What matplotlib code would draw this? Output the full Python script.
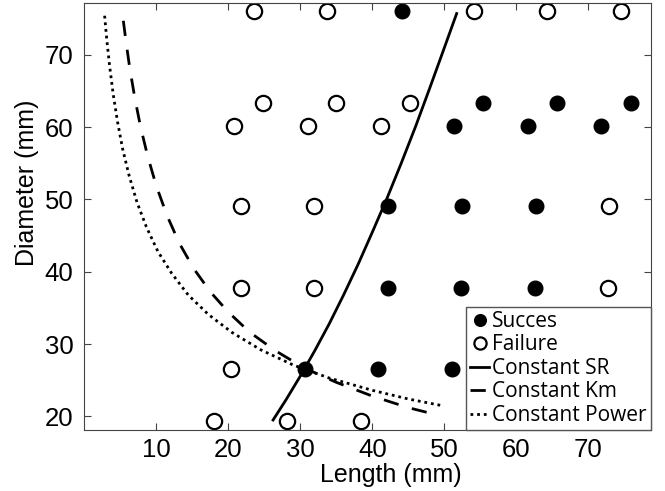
import matplotlib.pyplot as plt

# test points: length (mm), diameter (mm)
succes_len = [44.1, 55.4, 65.6, 75.9, 51.4, 61.6, 71.8, 42.2, 52.4, 62.7, 42.1, 52.3, 62.6, 30.7, 40.8, 51.0]
succes_dia = [76.0, 63.3, 63.3, 63.3, 60.2, 60.2, 60.2, 49.1, 49.1, 49.1, 37.8, 37.8, 37.8, 26.6, 26.6, 26.6]

fail_len = [23.5, 33.7, 54.1, 64.3, 74.5, 24.8, 35.0, 45.2, 20.8, 31.0, 41.2,
            21.8, 31.9, 72.8, 21.7, 31.9, 72.7, 20.4, 18.0, 28.2, 38.4]
fail_dia = [76.0, 76.0, 76.0, 76.0, 76.0, 63.3, 63.3, 63.3, 60.2, 60.2, 60.2,
            49.1, 49.1, 49.1, 37.8, 37.8, 37.8, 26.6, 19.3, 19.3, 19.3]

# iso curves
sr_len = [26.2, 28, 30, 32, 34, 36, 38, 40, 42, 44, 46, 48, 50, 51.7]
sr_dia = [19.5, 22.3, 25.6, 29.1, 32.8, 36.8, 41.0, 45.5, 50.1, 55.0, 60.1, 65.5, 71.0, 75.7]

km_len = [5.4, 5.8, 6.3, 7.0, 7.8, 8.8, 10.0, 11.5, 13.2, 15.2, 17.5, 20.0, 23.0, 26.5, 30.5, 35.0, 40.0, 45.0, 49.4]
km_dia = [74.7, 71.6, 68.1, 64.0, 60.0, 55.9, 51.8, 47.7, 43.9, 40.4, 37.2, 34.4, 31.6, 29.1, 26.7, 24.7, 22.8, 21.2, 20.1]

pw_len = [2.8, 3.1, 3.5, 4.0, 4.6, 5.3, 6.2, 7.3, 8.6, 10.2, 12.1, 14.4, 17.2, 20.5, 24.5, 29.0, 34.0, 40.0, 45.0, 49.6]
pw_dia = [75.4, 72.1, 68.4, 64.5, 60.7, 57.0, 53.3, 49.6, 46.2, 42.8, 39.8, 36.8, 34.1, 31.6, 29.2, 27.1, 25.3, 23.6, 22.4, 21.5]

xticks = [10, 20, 30, 40, 50, 60, 70]
yticks = [20, 30, 40, 50, 60, 70]

plt.rcParams['font.family'] = ['Liberation Sans', 'DejaVu Sans']

fig = plt.figure(figsize=(6.65, 4.91), dpi=100)
ax = fig.add_axes([0.127, 0.124, 0.852, 0.869])

ax.plot(succes_len, succes_dia, 'o', color='black', markersize=10.5, label='Succes')
ax.plot(fail_len, fail_dia, 'o', markerfacecolor='white', markeredgecolor='black',
        markeredgewidth=1.6, markersize=11, label='Failure')
ax.plot(sr_len, sr_dia, '-', color='black', linewidth=2, label='Constant SR')
ax.plot(km_len, km_dia, color='black', linewidth=2, linestyle=(0, (5.5, 5)), label='Constant Km')
ax.plot(pw_len, pw_dia, color='black', linewidth=2, linestyle=(0, (1, 1.4)), label='Constant Power')

ax.set_xlim(0, 78.7)
ax.set_ylim(18.1, 77.1)
ax.set_xticks(xticks)
ax.set_yticks(yticks)
ax.tick_params(direction='in', top=True, right=True, labelsize=18.5, length=5, color='#444444')
ax.tick_params(axis='x', pad=6)
ax.tick_params(axis='y', pad=8)
for s in ax.spines.values():
    s.set_color('#444444')
ax.set_xlabel('Length (mm)', fontsize=18)
ax.set_ylabel('Diameter (mm)', fontsize=18)
ax.xaxis.set_label_coords(0.541, -0.076)
ax.yaxis.set_label_coords(-0.080, 0.58)

leg = ax.legend(loc='lower right', borderaxespad=0, fancybox=False, framealpha=1,
                edgecolor='#555555', prop={'family': 'Open Sans', 'size': 15},
                handlelength=0.9, handletextpad=0.15, labelspacing=0.12,
                borderpad=0.2, markerscale=0.8)
leg.get_frame().set_linewidth(1)

fig.savefig('out.png', dpi=100)
